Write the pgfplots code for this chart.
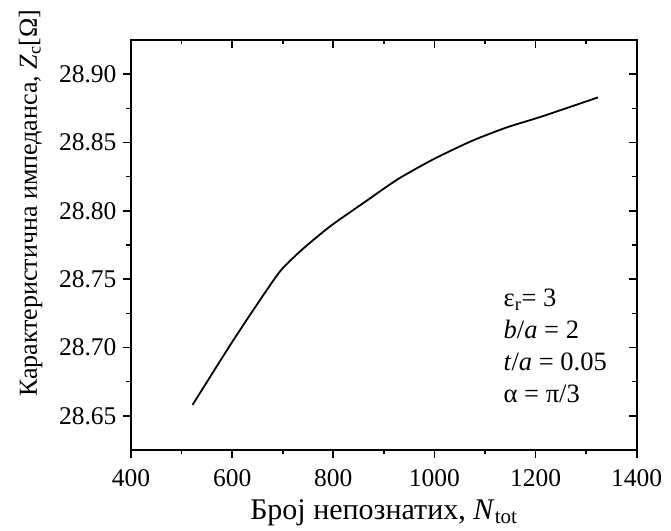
\documentclass[border=0pt]{standalone}
\usepackage{fontspec}
\setmainfont{Liberation Serif}
\usepackage{pgfplots}
\pgfplotsset{compat=1.18}

\begin{document}
\begin{tikzpicture}
\useasboundingbox (-131pt,-80pt) rectangle (540pt,450pt);

\pgfplotsset{
  zcframe/.style={
    at={(0,0)}, anchor=south west,
    scale only axis, width=505.7pt, height=410pt,
    xmin=400, xmax=1400, ymin=28.625, ymax=28.925,
    xtick={400,600,...,1400},
    ytick={28.65,28.70,...,28.91},
    minor x tick num=1, minor y tick num=1,
    major tick length=8pt, minor tick length=4.5pt,
    axis line style={line width=1.8pt},
    every tick/.style={black, line width=1.6pt},
  }
}

\begin{axis}[
    zcframe,
    tick pos=left, tick align=outside,
    font=\fontsize{25.5}{30}\selectfont,
    /pgf/number format/assume math mode=true,
    yticklabel style={xshift=-3pt, /pgf/number format/.cd, fixed, fixed zerofill, precision=2},
    xticklabel style={yshift=-8pt, /pgf/number format/1000 sep={}},
    xlabel={Број непознатих, \textit{N}\textsubscript{tot}},
    xlabel style={font=\fontsize{30}{34}\selectfont, at={(axis description cs:0.5,0)}, anchor=base, yshift=-69.3pt},
    ylabel={Карактеристична импеданса, \textit{Z}\textsubscript{c}[Ω]},
    ylabel style={font=\fontsize{26}{30}\selectfont, at={(axis description cs:-0.186,0.602)}, anchor=base},
]
% characteristic impedance vs number of unknowns
\addplot[black, line width=1.8pt, no markers, smooth, tension=0.4] coordinates {
    (521.7, 28.658)
    (600.0, 28.704)
    (662.9, 28.739)
    (697.6, 28.757)
    (739.4, 28.772)
    (795.0, 28.789)
    (864.5, 28.807)
    (927.0, 28.823)
    (996.7, 28.8375)
    (1073.0, 28.851)
    (1142.7, 28.861)
    (1212.0, 28.869)
    (1323.5, 28.883)
};

% parameters
\node[anchor=base west, font=\fontsize{26.5}{30}\selectfont] at (rel axis cs:0.730,0.349) {ε\textsubscript{r}= 3};
\node[anchor=base west, font=\fontsize{26.5}{30}\selectfont] at (rel axis cs:0.730,0.271) {\textit{b}/\textit{a} = 2};
\node[anchor=base west, font=\fontsize{26.5}{30}\selectfont] at (rel axis cs:0.730,0.193) {\textit{t}/\textit{a} = 0.05};
\node[anchor=base west, font=\fontsize{26.5}{30}\selectfont] at (rel axis cs:0.730,0.115) {α = π/3};
\end{axis}

% mirrored frame: ticks on right and top point inward
\begin{axis}[
    zcframe,
    tick pos=right, tick align=inside,
    xticklabels={}, yticklabels={},
]
\end{axis}
\end{tikzpicture}
\end{document}
